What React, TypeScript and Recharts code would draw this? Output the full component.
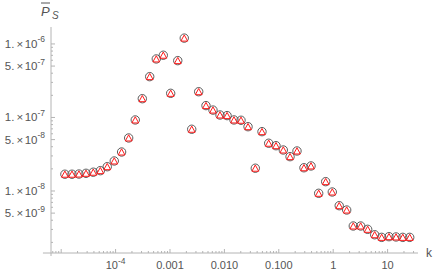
import React from 'react';
import { ScatterChart, Scatter, XAxis, YAxis, ReferenceLine } from 'recharts';

// k values (x)
const kValues = [
  1.17e-5, 1.58e-5, 2.12e-5, 2.86e-5, 3.89e-5, 5.24e-5, 7.03e-5, 9.46e-5, 1.29e-4, 1.74e-4,
  2.3e-4, 3.1e-4, 4.24e-4, 5.6e-4, 7.53e-4, 1.03e-3, 1.39e-3, 1.83e-3, 2.51e-3, 3.37e-3,
  4.59e-3, 6.17e-3, 8.3e-3, 0.0112, 0.015, 0.0202, 0.0272, 0.037, 0.0491, 0.0652,
  0.0889, 0.121, 0.161, 0.216, 0.29, 0.391, 0.541, 0.728, 0.962, 1.29,
  1.77, 2.34, 3.2, 4.3, 5.79, 7.78, 10.6, 14.3, 19.0, 25.5,
];

// mean P_S values (y)
const psValues = [
  1.69e-8, 1.69e-8, 1.7e-8, 1.74e-8, 1.8e-8, 1.89e-8, 2.14e-8, 2.56e-8, 3.39e-8, 5.26e-8,
  9.25e-8, 1.8e-7, 3.59e-7, 6.25e-7, 7.02e-7, 2.13e-7, 5.93e-7, 1.2e-6, 6.91e-8, 2.24e-7,
  1.45e-7, 1.26e-7, 1.08e-7, 1.06e-7, 9.25e-8, 9.16e-8, 7.49e-8, 2.04e-8, 6.41e-8, 4.46e-8,
  4.13e-8, 3.61e-8, 2.93e-8, 3.5e-8, 2.07e-8, 2.19e-8, 9.3e-9, 1.34e-8, 9.69e-9, 6.31e-9,
  5.51e-9, 3.34e-9, 3.34e-9, 3.01e-9, 2.54e-9, 2.34e-9, 2.39e-9, 2.37e-9, 2.34e-9, 2.34e-9,
];

const data = kValues.map((k, i) => ({ k, ps: psValues[i] }));

// axis ticks
const yMajorTicks = [1e-6, 5e-7, 1e-7, 5e-8, 1e-8, 5e-9];
const yMajorMantissa = ['1.', '5.', '1.', '5.', '1.', '5.'];
const yMajorExp = ['-6', '-7', '-7', '-8', '-8', '-9'];

const xMajorTicks = [1e-5, 1e-4, 0.001, 0.01, 0.1, 1, 10];
const xMajorLabels = ['', '10', '0.001', '0.010', '0.100', '1', '10'];
const xMajorExp = ['', '-4', '', '', '', '', ''];

const minorBetween = (fromExp: number, toExp: number) => {
  const out: number[] = [];
  for (let e = fromExp; e <= toExp; e++) {
    for (let m = 1; m <= 9; m++) out.push(m * Math.pow(10, e));
  }
  return out;
};

const yAllTicks = minorBetween(-9, -6).filter((v) => v > 1.44e-9 && v < 1.7e-6);
const xAllTicks = minorBetween(-6, 1).filter((v) => v > 6.5e-6 && v < 36);

const isSame = (a: number, b: number) => Math.abs(a - b) / b < 1e-6;

const AXIS = '#b4b4b4';
const TXT = '#555';
const FONT = '"Liberation Sans", Arial, sans-serif';

const YTick = (props: any) => {
  const { x, y, payload } = props;
  const idx = yMajorTicks.findIndex((t) => isSame(payload.value, t));
  const major = idx >= 0;
  return (
    <g>
      <line x1={x} x2={x + (major ? 4 : 2)} y1={y} y2={y} stroke={AXIS} strokeWidth={1} />
      {major && (
        <text x={x - 6} y={y + 4} textAnchor="end" fill={TXT} fontSize={11.5} fontFamily={FONT}>
          <tspan>{yMajorMantissa[idx]}</tspan>
          <tspan dx={2}>×</tspan>
          <tspan dx={1.5}>10</tspan>
          <tspan dy={-5.5} fontSize={8.5}>{yMajorExp[idx]}</tspan>
        </text>
      )}
    </g>
  );
};

const XTick = (props: any) => {
  const { x, y, payload } = props;
  const idx = xMajorTicks.findIndex((t) => isSame(payload.value, t));
  const major = idx >= 0;
  return (
    <g>
      <line x1={x} x2={x} y1={y} y2={y - (major ? 4 : 2)} stroke={AXIS} strokeWidth={1} />
      {major && xMajorLabels[idx] !== '' && (
        <text x={x} y={y + 16} textAnchor="middle" fill={TXT} fontSize={11} fontFamily={FONT}>
          <tspan>{xMajorLabels[idx]}</tspan>
          {xMajorExp[idx] !== '' && (
            <tspan dy={-5.5} fontSize={8.5}>
              {xMajorExp[idx]}
            </tspan>
          )}
        </text>
      )}
    </g>
  );
};

const CircleMark = (p: any) => (
  <circle cx={p.cx} cy={p.cy} r={4.2} fill="none" stroke="#4a4a4a" strokeWidth={0.9} />
);

const TriMark = (p: any) => (
  <polygon
    points={`${p.cx},${p.cy - 3.2} ${p.cx + 3.4},${p.cy + 3} ${p.cx - 3.4},${p.cy + 3}`}
    fill="none"
    stroke="#ff1a1a"
    strokeWidth={1}
    strokeLinejoin="miter"
  />
);

export default function App() {
  return (
    <div style={{ position: 'absolute', left: 0, top: 0, width: 436, height: 277, background: '#fff' }}>
      <ScatterChart width={436} height={277} margin={{ top: 27, right: 18, bottom: 0, left: 0 }}>
        <XAxis
          type="number"
          dataKey="k"
          scale="log"
          domain={[6.5e-6, 36.2]}
          allowDataOverflow
          ticks={xAllTicks}
          interval={0}
          height={24}
          tickSize={0}
          tickMargin={0}
          tickLine={false}
          axisLine={{ stroke: AXIS }}
          tick={<XTick />}
        />
        <YAxis
          type="number"
          dataKey="ps"
          scale="log"
          domain={[1.434e-9, 1.7e-6]}
          allowDataOverflow
          ticks={yAllTicks}
          interval={0}
          width={51}
          tickSize={0}
          tickMargin={0}
          tickLine={false}
          axisLine={{ stroke: AXIS }}
          tick={<YTick />}
        />
        <ReferenceLine
          segment={[
            { x: 4.62e-6, y: 1.434e-9 },
            { x: 6.5e-6, y: 1.434e-9 },
          ]}
          stroke={AXIS}
          ifOverflow="visible"
        />
        <ReferenceLine
          segment={[
            { x: 6.5e-6, y: 1.434e-9 },
            { x: 6.5e-6, y: 1.305e-9 },
          ]}
          stroke={AXIS}
          ifOverflow="visible"
        />
        <Scatter data={data} shape={<CircleMark />} isAnimationActive={false} />
        <Scatter data={data} shape={<TriMark />} isAnimationActive={false} />
      </ScatterChart>
      <svg
        width={436}
        height={277}
        style={{ position: 'absolute', left: 0, top: 0, pointerEvents: 'none' }}
      >
        <text x={426} y={257} fill={TXT} fontSize={12} fontFamily={FONT}>
          k
        </text>
        <line x1={41} x2={50} y1={3} y2={3} stroke={TXT} strokeWidth={1} />
        <text x={41} y={16} fill={TXT} fontSize={13} fontStyle="italic" fontFamily={FONT}>
          P
        </text>
        <text x={52} y={18.5} fill={TXT} fontSize={10} fontStyle="italic" fontFamily={FONT}>
          S
        </text>
      </svg>
    </div>
  );
}
